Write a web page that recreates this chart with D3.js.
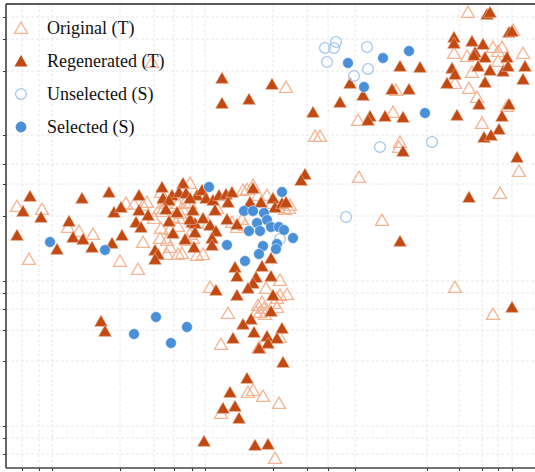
<!DOCTYPE html>
<html>
<head>
<meta charset="utf-8">
<script src="https://cdn.jsdelivr.net/npm/d3@7"></script>
<style>
  body { margin: 0; background: #fff; }
  .grid line { stroke: #e8e8e8; stroke-width: 1; stroke-dasharray: 3,2; }
  .axis path, .axis line { stroke: #333; }
  .legend text { font-family: "Liberation Serif", "Times New Roman", serif; font-size: 18px; fill: #111; }
</style>
</head>
<body>
<div id="chart"></div>
<script>
// Embedding coordinates (arbitrary units)
var xTicks = [2.2, 3.9, 5.2, 12.0, 15.4, 17.4, 19.2, 20.5, 27.3, 30.7, 32.8, 35.5, 42.7, 45.9, 48.2, 49.8, 51.2];
var yTicks = [45.1, 42.9, 39.7, 33.3, 30.4, 28.4, 25.2, 18.7, 17.5, 15.9, 13.8, 10.7, 4.2, 3.0, 1.4];

var originalT = [
  [15.2,40.6],[28.6,38.1],[31.5,33.2],[32.0,33.2],[35.8,34.8],[46.8,45.6],[45.4,41.5],[46.7,41.2],
  [49.3,42.1],[49.8,41.7],[50.2,42.1],[49.8,40.7],[52.3,41.5],[51.3,43.8],[47.2,39.6],[45.5,38.5],
  [46.9,38.0],[47.7,37.1],[48.2,34.5],[50.7,36.2],[39.6,37.8],[39.3,35.6],[40.0,32.6],[39.9,32.1],
  [51.9,29.7],[35.9,29.1],[50.0,27.5],[38.2,24.8],[45.5,18.1],[49.3,15.4],
  [1.7,26.2],[4.2,25.9],[2.9,20.9],[6.8,24.1],[7.9,23.7],[9.3,23.4],[12.0,20.7],[13.8,19.9],
  [12.6,26.5],[13.4,26.4],[14.3,26.3],[14.7,26.6],[14.3,22.6],[15.4,25.0],[16.1,24.0],[16.0,23.0],
  [16.7,22.8],[17.0,22.1],[16.7,21.4],[17.8,21.4],[16.1,27.6],[16.2,25.7],[17.8,24.2],[16.0,26.0],
  [16.5,26.5],[17.8,26.5],[18.3,25.9],[18.0,25.5],[17.0,23.9],[19.0,23.4],[19.3,23.0],[19.7,21.3],
  [19.0,26.5],[18.5,26.6],[17.9,25.0],[18.7,22.8],[17.3,25.1],[19.0,28.5],[18.2,21.5],[20.3,21.4],
  [24.3,27.8],[24.7,27.9],[25.3,28.3],[25.8,27.3],[26.7,27.3],[27.2,26.5],[27.8,26.1],[28.5,25.9],
  [28.9,26.0],[29.0,26.3],[21.7,26.0],[23.2,24.6],[24.2,24.9],[24.5,24.3],[23.7,24.1],[20.8,24.5],
  [21.0,18.1],[26.6,18.0],[28.0,18.8],[28.0,17.3],[28.7,17.4],[25.8,16.3],[26.2,16.6],[26.4,16.0],
  [27.7,17.0],[27.7,16.1],[27.4,16.5],[22.8,15.5],[26.0,15.6],[25.6,15.6],[26.5,15.4],[22.1,12.4],
  [25.9,12.1],[28.0,13.1],[24.8,7.6],[25.3,7.8],[26.3,7.2],[27.9,6.5],[22.1,5.5],[27.5,1.0]
];

var regeneratedT = [
  [22.2,39.0],[27.2,38.4],[22.2,36.5],[24.9,36.9],[31.3,35.6],[34.0,36.6],[35.0,38.5],[48.7,45.4],
  [49.0,45.6],[45.4,43.1],[45.4,42.5],[47.2,42.7],[48.3,42.4],[47.5,41.6],[47.4,41.3],[48.5,41.1],
  [50.7,41.1],[50.9,43.6],[51.2,43.7],[45.2,40.0],[45.5,39.4],[47.8,40.2],[49.0,39.8],[50.3,39.7],
  [50.8,40.2],[52.5,40.2],[52.3,38.9],[44.7,38.5],[48.5,38.6],[40.0,40.2],[42.0,40.1],[39.2,37.9],
  [40.9,37.9],[36.3,37.3],[47.9,36.4],[50.9,36.4],[45.7,35.3],[50.2,35.2],[49.9,33.9],[48.4,33.1],
  [49.1,33.3],[51.7,31.1],[37.0,35.2],[36.8,34.8],[38.5,35.2],[40.3,35.1],[40.3,31.7],[30.5,29.4],
  [30.1,28.8],[46.9,27.1],[40.0,22.7],[51.2,16.1],
  [3.0,27.2],[2.3,25.7],[4.1,25.1],[1.7,23.3],[5.7,21.9],[6.9,24.7],[7.3,23.1],[8.3,22.9],
  [9.2,22.1],[8.2,27.0],[10.9,27.6],[11.4,25.6],[12.1,26.1],[12.2,23.3],[11.2,22.5],[13.9,27.3],
  [13.9,25.8],[14.8,25.3],[13.6,24.6],[14.1,24.1],[16.2,28.1],[16.3,27.0],[17.2,27.3],[16.9,26.8],
  [16.6,25.9],[17.7,25.6],[16.9,24.7],[17.3,23.5],[15.5,21.8],[15.8,21.4],[15.5,20.9],[18.3,28.5],
  [17.9,27.6],[18.6,27.5],[19.7,27.3],[19.0,27.0],[19.2,24.6],[19.5,24.5],[19.0,24.9],[18.5,22.9],
  [19.4,22.1],[10.1,14.7],[10.5,13.7],[19.3,25.8],[19.5,23.6],
  [20.2,27.8],[20.6,27.0],[21.3,26.8],[21.9,27.3],[22.6,27.4],[23.2,27.6],[22.8,26.6],[21.5,25.8],
  [20.3,25.0],[21.0,24.3],[21.6,23.7],[22.7,24.9],[23.7,24.4],[21.2,23.0],[21.2,22.3],[25.3,28.0],
  [25.0,26.6],[26.1,26.6],[27.3,27.0],[27.5,26.1],[28.2,26.5],[28.6,26.6],[27.1,21.0],[26.2,20.2],
  [23.5,20.1],
  [23.7,19.2],[25.6,19.1],[27.1,19.2],[25.3,18.5],[24.8,18.0],[21.6,17.8],[23.7,17.3],[27.3,17.3],
  [27.1,15.7],[25.1,14.9],[24.3,14.4],[25.4,13.6],[28.2,14.0],[23.3,13.0],[26.7,13.2],[27.7,13.0],
  [26.8,12.5],[25.9,12.0],[28.3,10.6],[24.7,9.0],[23.0,7.6],[22.3,6.0],[23.5,6.2],[23.9,5.0],
  [20.4,2.7],[25.5,2.3],[26.8,2.4]
];

var unselectedS = [
  [32.5,42.0],[33.6,42.6],[33.4,42.0],[32.7,40.6],[35.4,39.2],[36.7,42.1],[36.8,39.9],[38.0,32.1],
  [43.2,32.6],[34.6,25.1],[28.0,22.9]
];

var selectedS = [
  [20.9,28.1],[28.2,27.6],[24.4,25.7],[25.3,25.7],[26.4,25.5],[26.7,24.8],[25.7,24.5],[24.9,23.7],
  [26.0,23.7],[27.1,24.1],[27.9,24.1],[28.4,23.8],[29.3,23.0],[27.7,22.4],[27.6,21.9],[26.3,22.2],
  [25.9,21.4],[24.5,20.7],[22.7,22.3],[5.0,22.6],[10.5,21.8],[13.4,13.4],[15.6,15.1],[17.1,12.5],
  [18.7,14.1],[34.8,40.5],[38.3,41.0],[40.9,41.7],[36.4,38.1],[42.5,35.5]
];

var legendItems = ['Original (T)', 'Regenerated (T)', 'Unselected (S)', 'Selected (S)'];

var colors = {
  origStroke: '#f5b594',
  regenFill: '#c24a12',
  unselStroke: '#a6c8ee',
  selFill: '#4a90d9'
};

var W = 535, H = 472;
var margin = {top: 4, right: 0, bottom: 4, left: 6};

var svg = d3.select('#chart').append('svg')
    .attr('width', W)
    .attr('height', H);

var x = d3.scaleLinear().domain([0.6, 53.5]).range([margin.left, W - margin.right]);
var y = d3.scaleLinear().domain([0, 46.4]).range([H - margin.bottom, margin.top]);

// Grid
svg.append('g')
    .attr('class', 'grid')
    .selectAll('line.v')
    .data(xTicks)
    .enter()
    .append('line')
    .attr('x1', d => x(d)).attr('x2', d => x(d))
    .attr('y1', y.range()[1]).attr('y2', y.range()[0]);

svg.append('g')
    .attr('class', 'grid')
    .selectAll('line.h')
    .data(yTicks)
    .enter()
    .append('line')
    .attr('y1', d => y(d)).attr('y2', d => y(d))
    .attr('x1', x.range()[0]).attr('x2', x.range()[1]);

var triSize = 74;
var tri = d3.symbol().type(d3.symbolTriangle).size(triSize);
var circ = d3.symbol().type(d3.symbolCircle).size(92);
// d3 centres triangles on the centroid; shift so the bounding box is centred
var triShift = Math.sqrt(triSize / (3 * Math.sqrt(3))) * Math.sqrt(3) / 4;

var pts = svg.append('g').attr('class', 'points');

pts.selectAll('path.orig')
    .data(originalT)
    .enter()
    .append('path')
    .attr('class', 'orig')
    .attr('d', tri)
    .attr('transform', d => `translate(${x(d[0])},${y(d[1]) + triShift})`)
    .style('fill', 'none')
    .style('stroke', colors.origStroke)
    .style('stroke-width', 1.3);

pts.selectAll('path.regen')
    .data(regeneratedT)
    .enter()
    .append('path')
    .attr('class', 'regen')
    .attr('d', tri)
    .attr('transform', d => `translate(${x(d[0])},${y(d[1]) + triShift})`)
    .style('fill', colors.regenFill)
    .style('stroke', '#f0c0a8')
    .style('stroke-width', 0.5);

pts.selectAll('path.unsel')
    .data(unselectedS)
    .enter()
    .append('path')
    .attr('class', 'unsel')
    .attr('d', circ)
    .attr('transform', d => `translate(${x(d[0])},${y(d[1])})`)
    .style('fill', 'none')
    .style('stroke', colors.unselStroke)
    .style('stroke-width', 1.3);

pts.selectAll('path.sel')
    .data(selectedS)
    .enter()
    .append('path')
    .attr('class', 'sel')
    .attr('d', circ)
    .attr('transform', d => `translate(${x(d[0])},${y(d[1])})`)
    .style('fill', colors.selFill)
    .style('stroke', '#ffffff')
    .style('stroke-width', 0.5);

// Axes (no labels in the original)
svg.append('g')
    .attr('class', 'axis')
    .attr('transform', `translate(${margin.left},0)`)
    .call(d3.axisLeft(y).tickValues(yTicks).tickSize(3).tickFormat(''));

svg.append('g')
    .attr('class', 'axis')
    .attr('transform', `translate(0,${H - margin.bottom})`)
    .call(d3.axisBottom(x).tickValues(xTicks).tickSize(3).tickFormat(''));

svg.selectAll('.axis .domain').remove();

svg.append('line')
    .attr('x1', x.range()[0]).attr('x2', x.range()[0])
    .attr('y1', y.range()[1]).attr('y2', y.range()[0])
    .style('stroke', '#333').style('stroke-width', 1.5);
svg.append('line')
    .attr('x1', x.range()[0]).attr('x2', x.range()[1])
    .attr('y1', y.range()[1]).attr('y2', y.range()[1])
    .style('stroke', '#222').style('stroke-width', 1.5);
svg.append('line')
    .attr('x1', x.range()[0]).attr('x2', x.range()[1])
    .attr('y1', y.range()[0]).attr('y2', y.range()[0])
    .style('stroke', '#444').style('stroke-width', 1.5);

// Legend
var legend = svg.append('g')
    .attr('class', 'legend')
    .attr('transform', 'translate(21,28)');

var rows = legend.selectAll('g.row')
    .data(legendItems)
    .enter()
    .append('g')
    .attr('class', 'row')
    .attr('transform', (d, i) => `translate(0,${i * 33})`);

rows.append('path')
    .attr('d', (d, i) => i < 2 ? tri() : circ())
    .attr('transform', (d, i) => i < 2 ? `translate(0,${triShift})` : null)
    .style('fill', (d, i) => i === 1 ? colors.regenFill : i === 3 ? colors.selFill : 'none')
    .style('stroke', (d, i) => i === 0 ? colors.origStroke : i === 2 ? colors.unselStroke : 'none')
    .style('stroke-width', 1.3);

rows.append('text')
    .attr('x', 26)
    .attr('y', 6)
    .text(d => d);
</script>
</body>
</html>
